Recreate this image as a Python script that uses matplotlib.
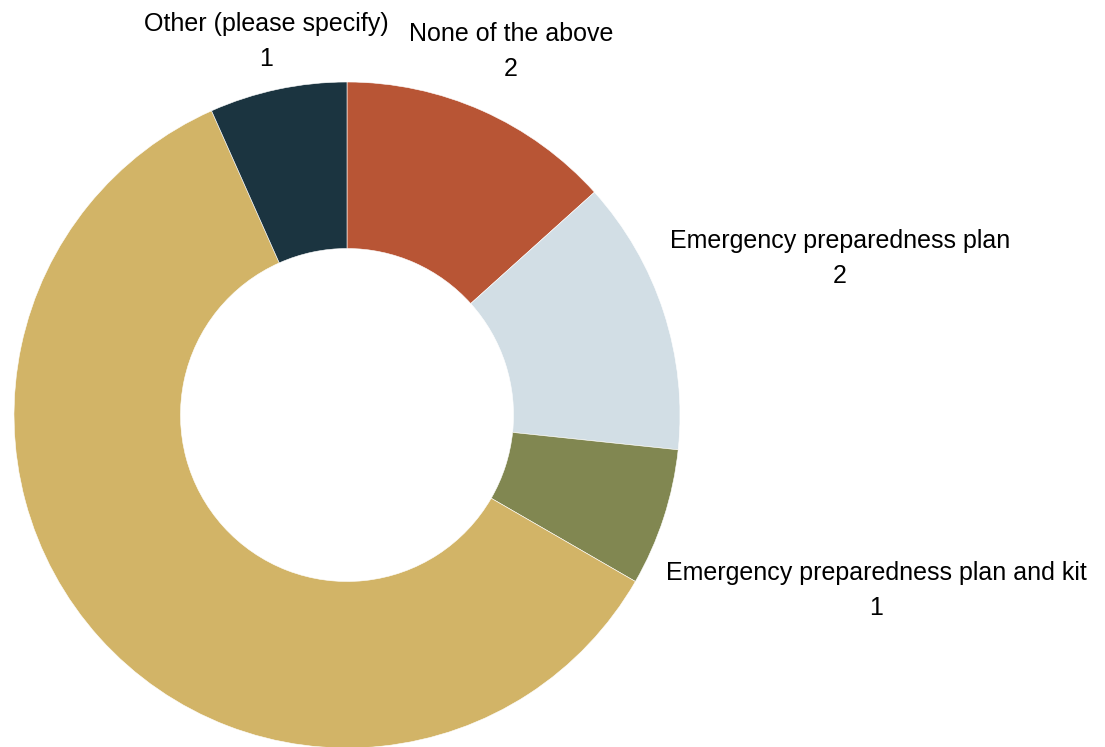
import matplotlib
matplotlib.use("Agg")
import matplotlib.pyplot as plt

categories = ["None of the above", "Emergency preparedness plan",
              "Emergency preparedness plan and kit", "", "Other (please specify)"]
values = [2, 2, 1, 9, 1]
colors = ["#B85535", "#D2DEE5", "#818751", "#D2B467", "#1B3440"]

# label layout (pixel positions of label centres, y from top)
label_pos = [(511, 34), (840, 241), (876, 573), None, (266, 24)]
line_gap = 35

W, H = 1105, 747
fig = plt.figure(figsize=(W / 100, H / 100), dpi=100)
ax = fig.add_axes([0, 0, 1, 1])

cx, cy, r = 347, H - 415, 333
ax.pie(values, colors=colors, startangle=90, counterclock=False,
       center=(cx, cy), radius=r, frame=True,
       wedgeprops=dict(width=r * 0.5, edgecolor="white", linewidth=0.4))
ax.set_xlim(0, W)
ax.set_ylim(0, H)
ax.set_aspect("equal")
ax.axis("off")

for cat, val, pos in zip(categories, values, label_pos):
    if pos is None:
        continue
    x, y = pos
    ax.text(x, H - y, cat, ha="center", va="center", fontsize=18,
            family="Liberation Sans", color="#000000")
    ax.text(x, H - y - line_gap, str(val), ha="center", va="center", fontsize=18,
            family="Liberation Sans", color="#000000")

fig.savefig("out.png", dpi=100)
